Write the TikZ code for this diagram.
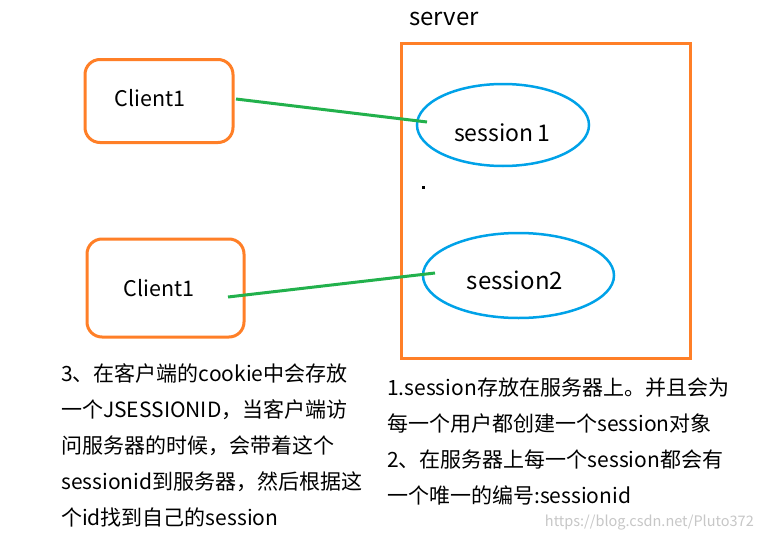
\documentclass[tikz,border=0pt]{standalone}
\usepackage{fontspec}
\setmainfont{Noto Sans CJK SC}
\usetikzlibrary{shapes.geometric}
\definecolor{boxorange}{HTML}{FF7F27}
\definecolor{sessblue}{HTML}{00A2E8}
\definecolor{linkgreen}{HTML}{22B14C}

\begin{document}
\begin{tikzpicture}[x=1pt,y=-1pt,
    client/.style={draw=boxorange,line width=3pt,rounded corners=15pt,inner sep=0pt},
    sess/.style={draw=sessblue,line width=2.5pt,ellipse,inner sep=0pt},
    link/.style={draw=linkgreen,line width=3pt},
    note/.style={align=left,anchor=north west,inner sep=0pt,
        font=\fontsize{21}{36}\selectfont}]
\useasboundingbox (0,0) rectangle (764,541);
\fill[white] (0,0) rectangle (764,541);

% clients
\node[client,minimum width=148pt,minimum height=83pt] (client1) at (159,101) {};
\node[font=\fontsize{21.5}{25}\selectfont] (client1txt) at (150,98) {Client1};
\node[client,minimum width=157pt,minimum height=98pt] (client2) at (165.5,288) {};
\node[font=\fontsize{21.5}{25}\selectfont] (client2txt) at (159,288) {Client1};

% server
\draw[draw=boxorange,line width=3pt] (401,43) rectangle (690,358);
\node[font=\fontsize{24}{28}\selectfont,anchor=west,inner sep=0pt] (servertxt) at (409,19) {server};
\node[sess,minimum width=172pt,minimum height=82pt] (session1) at (503,125) {};
\node[font=\fontsize{23}{28}\selectfont] (session1txt) at (502,133) {session\,1};
\node[sess,minimum width=191pt,minimum height=85pt] (session2) at (518.5,275.5) {};
\node[font=\fontsize{24}{28}\selectfont] (session2txt) at (515,280) {session2};
\fill (421.5,185.5) rectangle (424.5,188.5);

% links
\coordinate (c1out) at (236,99);
\coordinate (s1in) at (427,122);
\coordinate (c2out) at (228,297);
\coordinate (s2in) at (435,273);
\draw[link] (c1out) -- (s1in);
\draw[link] (c2out) -- (s2in);

% notes
\node[note] (cookienote) at (61,363) {3、在客户端的cookie中会存放\\一个JSESSIONID，当客户端访\\问服务器的时候，会带着这个\\sessionid到服务器，然后根据这\\个id找到自己的session};
\node[note] (servernote) at (387,378) {1.session存放在服务器上。并且会为\\每一个用户都创建一个session对象\\2、在服务器上每一个session都会有\\一个唯一的编号:sessionid};
\node[anchor=east,inner sep=0pt,text=black!22,font=\fontsize{14.5}{17}\selectfont] (watermark) at (754,523) {https://blog.csdn.net/Pluto372};
\end{tikzpicture}
\end{document}
